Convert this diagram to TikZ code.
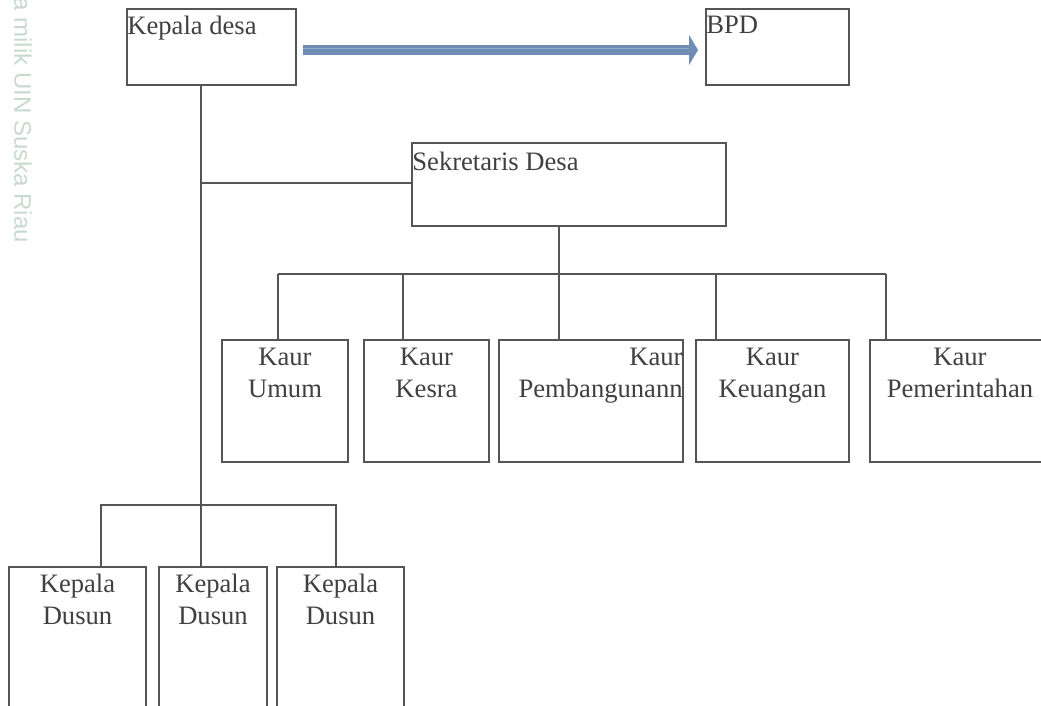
\documentclass[tikz,border=0pt]{standalone}
\usepackage{fontspec}
\setmainfont{Liberation Serif}
\newfontfamily\wmfont{Liberation Sans}
\usetikzlibrary{arrows.meta}
\definecolor{linegray}{HTML}{555555}
\definecolor{textgray}{HTML}{404040}
\definecolor{arrowblue}{HTML}{6F8DB4}
\definecolor{arrowlight}{HTML}{8FA9CA}
\definecolor{wmgreen}{HTML}{C8D9D0}
\begin{document}
\begin{tikzpicture}[x=0.5pt, y=-0.5pt,
    box/.style={draw=linegray, line width=1pt, inner sep=0pt},
    lbl/.style={inner sep=0pt, text=textgray, font=\fontsize{13.3}{15.8}\selectfont},
    conn/.style={draw=linegray, line width=1pt}]
    \useasboundingbox (0,0) rectangle (1041,706);
    % watermark
    \node[rotate=-90, anchor=west, inner sep=0pt, text=wmgreen,
        font=\wmfont\fontsize{12}{12}\selectfont] (wm) at (23,-3) {a milik UIN Suska Riau};
    % top row
    \node[box, minimum width=84.5pt, minimum height=38pt] (kades) at (211.5,47) {};
    \node[box, minimum width=71.5pt, minimum height=38pt] (bpd) at (777.5,47) {};
    \node[box, minimum width=157pt, minimum height=41.5pt] (sekdes) at (569,184.5) {};
    \node[lbl, anchor=north west, xshift=0.5pt, yshift=-4pt] (kadestxt) at (kades.north west) {Kepala desa};
    \node[lbl, anchor=north west, xshift=0.5pt, yshift=-4pt] (bpdtxt) at (bpd.north west) {BPD};
    \node[lbl, anchor=north west, xshift=0.5pt, yshift=-5pt] (sekdestxt) at (sekdes.north west) {Sekretaris Desa};
    % kaur
    \node[box, minimum width=63pt, minimum height=61pt] (umum) at (285,401) {};
    \node[box, minimum width=62.5pt, minimum height=61pt] (kesra) at (426.5,401) {};
    \node[box, minimum width=92pt, minimum height=61pt] (pemb) at (591,401) {};
    \node[box, minimum width=76.5pt, minimum height=61pt] (keu) at (772.5,401) {};
    \node[box, minimum width=90pt, minimum height=61pt] (pem) at (960,401) {};
    \node[lbl, align=center, anchor=north, yshift=-4.5pt] (umumtxt) at (umum.north) {Kaur\\Umum};
    \node[lbl, align=center, anchor=north, yshift=-4.5pt] (kesratxt) at (kesra.north) {Kaur\\Kesra};
    \node[lbl, align=right, anchor=north east, xshift=-0.5pt, yshift=-4.5pt] (pembtxt) at (pemb.north east) {Kaur\\Pembangunann};
    \node[lbl, align=center, anchor=north, yshift=-4.5pt] (keutxt) at (keu.north) {Kaur\\Keuangan};
    \node[lbl, align=center, anchor=north, yshift=-4.5pt] (pemtxt) at (pem.north) {Kaur\\Pemerintahan};
    % dusun
    \node[box, minimum width=68.5pt, minimum height=76.5pt] (dusun1) at (77.5,643.5) {};
    \node[box, minimum width=54pt, minimum height=76.5pt] (dusun2) at (213,643.5) {};
    \node[box, minimum width=63.5pt, minimum height=76.5pt] (dusun3) at (340.5,643.5) {};
    \node[lbl, align=center, anchor=north, yshift=-4pt] (dusun1txt) at (dusun1.north) {Kepala\\Dusun};
    \node[lbl, align=center, anchor=north, yshift=-4pt] (dusun2txt) at (dusun2.north) {Kepala\\Dusun};
    \node[lbl, align=center, anchor=north, yshift=-4pt] (dusun3txt) at (dusun3.north) {Kepala\\Dusun};
    % arrow to BPD
    \draw[arrowblue, line width=5pt, -{Triangle[width=15pt, length=4.5pt]}]
        ([xshift=3pt, yshift=-1.5pt]kades.east) -- ([xshift=-3.5pt, yshift=-1.5pt]bpd.west);
    \draw[arrowlight, line width=0.75pt]
        ([xshift=3pt, yshift=-0.75pt]kades.east) -- ([xshift=-8pt, yshift=-0.75pt]bpd.west);
    % lines
    \coordinate (trunk) at (201,183);
    \coordinate (kaurbus) at (559,274);
    \coordinate (kaurL) at (278,274);
    \coordinate (kaurR) at (886,274);
    \coordinate (dusL) at (101,505);
    \coordinate (dusR) at (336,505);
    \draw[conn] (kades.south -| trunk) -- (dusun2.north -| trunk);
    \draw[conn] (trunk) -- (trunk -| sekdes.west);
    \draw[conn] (sekdes.south -| kaurbus) -- (kaurbus);
    \draw[conn] (kaurL) -- (kaurR);
    \foreach \x/\n in {278/umum,403/kesra,559/pemb,716/keu,886/pem}
        \draw[conn] (\x,274) -- (\n.north -| \x,274);
    \draw[conn] (dusun1.north -| dusL) -- (dusL) -- (dusR) -- (dusun3.north -| dusR);
\end{tikzpicture}
\end{document}
